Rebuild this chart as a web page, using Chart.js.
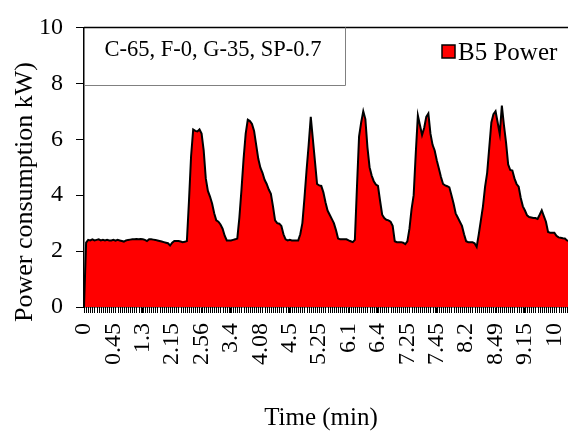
<!DOCTYPE html>
<html>
<head>
<meta charset="utf-8">
<script src="https://cdn.jsdelivr.net/npm/chart.js@4"></script>
<style>
  html, body { margin: 0; padding: 0; background: #fff; overflow: hidden; }
  #wrap { position: relative; width: 568px; height: 436px; }
</style>
</head>
<body>
<div id="wrap"><canvas id="consumo"></canvas></div>
<script>
// Etiquetas del eje de tiempo (una cada 14 muestras)
const tickLabels = ['0', '0.45', '1.3', '2.15', '2.56', '3.4', '4.08', '4.5', '5.25',
                    '6.1', '6.4', '7.25', '7.45', '8.2', '8.49', '9.15', '10'];
const labelStep = 14;

// Potencia B5 (kW), una muestra por marca del eje
const power = [
  0.00, 2.30, 2.40, 2.38, 2.42, 2.38, 2.40, 2.42, 2.38, 2.40,
  2.38, 2.40, 2.38, 2.38, 2.40, 2.37, 2.40, 2.38, 2.36, 2.34,
  2.38, 2.40, 2.41, 2.42, 2.42, 2.43, 2.42, 2.43, 2.42, 2.40,
  2.36, 2.42, 2.42, 2.41, 2.40, 2.38, 2.36, 2.34, 2.32, 2.30,
  2.28, 2.20, 2.30, 2.36, 2.36, 2.36, 2.34, 2.32, 2.33, 2.36,
  3.80, 5.40, 6.35, 6.30, 6.28, 6.35, 6.20, 5.60, 4.60, 4.15,
  3.95, 3.70, 3.35, 3.10, 3.05, 2.95, 2.80, 2.55, 2.38, 2.38,
  2.38, 2.40, 2.42, 2.45, 3.20, 4.20, 5.30, 6.20, 6.70, 6.65,
  6.55, 6.30, 5.80, 5.30, 4.98, 4.80, 4.55, 4.40, 4.20, 4.05,
  3.60, 3.10, 3.00, 2.98, 2.90, 2.60, 2.42, 2.38, 2.40, 2.38,
  2.38, 2.38, 2.38, 2.60, 3.00, 3.90, 4.90, 5.80, 6.80, 6.00,
  5.20, 4.40, 4.35, 4.33, 4.10, 3.75, 3.45, 3.30, 3.15, 3.00,
  2.75, 2.45, 2.42, 2.42, 2.42, 2.42, 2.38, 2.35, 2.32, 2.40,
  4.30, 6.10, 6.60, 7.00, 6.72, 5.70, 5.00, 4.70, 4.50, 4.38,
  4.33, 3.80, 3.30, 3.18, 3.12, 3.10, 3.05, 2.90, 2.35, 2.32,
  2.32, 2.32, 2.30, 2.25, 2.35, 2.80, 3.50, 4.00, 5.50, 6.85,
  6.50, 6.15, 6.40, 6.80, 6.92, 6.20, 5.80, 5.60, 5.25, 4.95,
  4.65, 4.40, 4.35, 4.32, 4.28, 4.00, 3.70, 3.35, 3.20, 3.05,
  2.90, 2.60, 2.35, 2.32, 2.32, 2.32, 2.28, 2.15, 2.60, 3.10,
  3.60, 4.30, 4.80, 5.70, 6.60, 6.90, 7.00, 6.60, 6.19, 7.20,
  6.50, 5.88, 5.10, 4.90, 4.88, 4.60, 4.40, 4.30, 3.90, 3.60,
  3.45, 3.28, 3.22, 3.20, 3.18, 3.18, 3.15, 3.30, 3.46, 3.25,
  3.05, 2.68, 2.66, 2.66, 2.66, 2.55, 2.49, 2.48, 2.46, 2.45,
  2.38, 2.36, 2.35
];

const annotationText = 'C-65, F-0, G-35, SP-0.7';
const seriesName = 'B5 Power';
const xTitle = 'Time (min)';
const yTitle = 'Power consumption kW)';

const serif = "'Liberation Serif', 'Times New Roman', serif";
Chart.defaults.font.family = serif;
Chart.defaults.color = '#000';

// Textos, caja, leyenda y marcas menores dibujados a mano
const extras = {
  id: 'extras',
  afterDraw(chart) {
    const ctx = chart.ctx;
    const a = chart.chartArea;
    const xs = chart.scales.x;
    ctx.save();

    // una marca por muestra bajo el eje x
    ctx.strokeStyle = '#000';
    ctx.lineWidth = 1;
    ctx.beginPath();
    for (let i = 0; i <= xs.max; i++) {
      const px = Math.round(xs.getPixelForValue(i)) + 0.5;
      ctx.moveTo(px, a.bottom);
      ctx.lineTo(px, a.bottom + 6);
    }
    ctx.stroke();

    ctx.lineWidth = 1.5;
    ctx.beginPath();
    ctx.moveTo(a.left, a.top);
    ctx.lineTo(a.right, a.top);
    ctx.stroke();

    ctx.strokeStyle = '#808080';
    ctx.lineWidth = 1;
    ctx.beginPath();
    ctx.moveTo(a.left, 85.5);
    ctx.lineTo(345.5, 85.5);
    ctx.lineTo(345.5, a.top);
    ctx.stroke();

    ctx.fillStyle = '#000';
    ctx.font = '22.5px ' + serif;
    ctx.textAlign = 'center';
    ctx.textBaseline = 'alphabetic';
    ctx.fillText(annotationText, 213, 56);

    ctx.fillStyle = '#ff0000';
    ctx.fillRect(442, 45, 13, 13);
    ctx.strokeStyle = '#000';
    ctx.lineWidth = 1.5;
    ctx.strokeRect(442, 45, 13, 13);
    ctx.fillStyle = '#000';
    ctx.font = '25px ' + serif;
    ctx.textAlign = 'left';
    ctx.fillText(seriesName, 458, 60);

    ctx.textAlign = 'center';
    ctx.fillText(xTitle, 321, 425);

    ctx.translate(25, 192);
    ctx.rotate(-Math.PI / 2);
    ctx.font = '26px ' + serif;
    ctx.textBaseline = 'middle';
    ctx.fillText(yTitle, 0, 0);
    ctx.restore();
  }
};

const ctxConsumo = document.getElementById('consumo').getContext('2d');
new Chart(ctxConsumo, {
  type: 'line',
  data: {
    datasets: [{
      label: seriesName,
      data: power.map((v, i) => ({ x: i, y: v })),
      fill: 'origin',
      backgroundColor: '#ff0000',
      borderColor: '#000',
      borderWidth: 2,
      pointRadius: 0,
      tension: 0
    }]
  },
  options: {
    responsive: true,
    maintainAspectRatio: false,
    animation: false,
    layout: { padding: { top: 18, left: 0, right: 0, bottom: 0 } },
    plugins: { legend: { display: false }, tooltip: { enabled: false } },
    scales: {
      x: {
        type: 'linear',
        min: 0,
        max: 230.5,
        afterBuildTicks: (scale) => {
          scale.ticks = tickLabels.map((t, k) => ({ value: k * labelStep }));
        },
        afterFit: (scale) => { scale.height = 129; scale.paddingRight = 0; scale.paddingLeft = 0; },
        grid: { drawOnChartArea: false, drawTicks: true, tickLength: 6, color: '#000', lineWidth: 1 },
        border: { display: true, color: '#000', width: 1.5 },
        ticks: {
          autoSkip: false,
          minRotation: 90,
          maxRotation: 90,
          padding: 10,
          font: { size: 24 },
          callback: (value) => tickLabels[value / labelStep]
        }
      },
      y: {
        min: 0,
        max: 10,
        afterFit: (scale) => { scale.width = 84; },
        grid: { drawOnChartArea: false, drawTicks: true, tickLength: 8, color: '#000', lineWidth: 1 },
        border: { display: true, color: '#000', width: 1.5 },
        ticks: { stepSize: 2, padding: 13, font: { size: 24 } }
      }
    }
  },
  plugins: [extras]
});
</script>
</body>
</html>
